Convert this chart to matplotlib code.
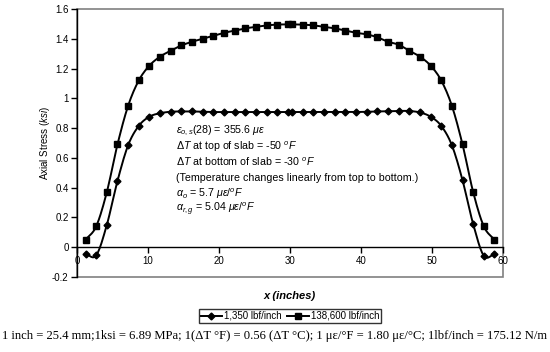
import numpy as np
import matplotlib
matplotlib.use('Agg')
import matplotlib.pyplot as plt
from matplotlib.patches import Rectangle

# 位置 (inch)
x_left = [1.2, 2.7, 4.2, 5.7, 7.2, 8.7, 10.2, 11.7, 13.2, 14.7,
          16.2, 17.7, 19.2, 20.7, 22.2, 23.7, 25.2, 26.7, 28.2, 29.7]
x_right = [30.3, 31.8, 33.3, 34.8, 36.3, 37.8, 39.3, 40.8, 42.3, 43.8,
           45.3, 46.8, 48.3, 49.8, 51.3, 52.8, 54.3, 55.8, 57.3, 58.8]
x_pos = x_left + x_right

# 1,350 lbf/inch
stress_soft = [-0.045, -0.055, 0.15, 0.445, 0.685, 0.815, 0.877, 0.900, 0.910, 0.912,
               0.912, 0.910, 0.908, 0.908, 0.908, 0.908, 0.908, 0.908, 0.908, 0.908,
               0.908, 0.908, 0.908, 0.908, 0.908, 0.908, 0.908, 0.910, 0.912, 0.913,
               0.915, 0.915, 0.905, 0.877, 0.815, 0.685, 0.450, 0.155, -0.058, -0.047]
# 138,600 lbf/inch
stress_stiff = [0.05, 0.14, 0.37, 0.69, 0.95, 1.12, 1.22, 1.28, 1.32, 1.355,
                1.38, 1.40, 1.42, 1.44, 1.455, 1.47, 1.48, 1.49, 1.495, 1.497,
                1.497, 1.495, 1.49, 1.48, 1.47, 1.455, 1.44, 1.43, 1.41, 1.38,
                1.36, 1.32, 1.28, 1.22, 1.12, 0.95, 0.69, 0.37, 0.14, 0.05]

series_labels = ['1,350 lbf/inch', '138,600 lbf/inch']
x_ticks = [0, 10, 20, 30, 40, 50, 60]
y_ticks = [-0.2, 0, 0.2, 0.4, 0.6, 0.8, 1, 1.2, 1.4, 1.6]
y_ticklabels = ['-0.2', '0', '0.2', '0.4', '0.6', '0.8', '1', '1.2', '1.4', '1.6']

notes = [r'$\varepsilon_{o,s}$(28) = 355.6 $\mu\varepsilon$',
         r'$\Delta T$ at top of slab = -50 $^{o}F$',
         r'$\Delta T$ at bottom of slab = -30 $^{o}F$',
         '(Temperature changes linearly from top to bottom.)',
         r'$\alpha_{o}$ = 5.7 $\mu\varepsilon$/$^{o}F$',
         r'$\alpha_{r,g}$ = 5.04 $\mu\varepsilon$/$^{o}F$']
units_line = ('1 inch = 25.4 mm;1ksi = 6.89 MPa; 1(\u0394T \u00b0F) = 0.56 (\u0394T \u00b0C); '
              '1 \u03bc\u03b5/\u00b0F = 1.80 \u03bc\u03b5/\u00b0C; 1lbf/inch = 175.12 N/m')

plt.rcParams['font.family'] = ['Liberation Sans', 'DejaVu Sans']
plt.rcParams['mathtext.fontset'] = 'custom'
plt.rcParams['mathtext.rm'] = 'Liberation Sans'
plt.rcParams['mathtext.it'] = 'Liberation Sans:italic'
plt.rcParams['mathtext.bf'] = 'Liberation Sans:bold'


def smooth(x, y, n=12):
    # Catmull-Rom 平滑曲线 (类似 Excel 的平滑线)
    x = np.asarray(x, float)
    y = np.asarray(y, float)
    px = np.concatenate([[2 * x[0] - x[1]], x, [2 * x[-1] - x[-2]]])
    py = np.concatenate([[2 * y[0] - y[1]], y, [2 * y[-1] - y[-2]]])
    xs, ys = [], []
    t = np.linspace(0, 1, n, endpoint=False)
    for i in range(1, len(px) - 2):
        for arr, out in ((px, xs), (py, ys)):
            p0, p1, p2, p3 = arr[i - 1], arr[i], arr[i + 1], arr[i + 2]
            out.extend(0.5 * ((2 * p1) + (-p0 + p2) * t
                              + (2 * p0 - 5 * p1 + 4 * p2 - p3) * t ** 2
                              + (-p0 + 3 * p1 - 3 * p2 + p3) * t ** 3))
    xs.append(x[-1])
    ys.append(y[-1])
    return np.array(xs), np.array(ys)


fig = plt.figure(figsize=(5.5, 3.52), dpi=100)
ax = fig.add_axes([77 / 550, 1 - 277 / 352, 426 / 550, 268 / 352])

for ys, mk, ms, lab in ((stress_soft, 'D', 3.5, series_labels[0]),
                        (stress_stiff, 's', 4.3, series_labels[1])):
    sx, sy = smooth(x_pos, ys)
    ax.plot(sx, sy, color='black', lw=1.4, zorder=3)
    ax.plot(x_pos, ys, linestyle='none', marker=mk, ms=ms, color='black', zorder=4)
    ax.plot([], [], color='black', lw=1.4, marker=mk, ms=ms, label=lab)

ax.set_xlim(0, 60)
ax.set_ylim(-0.2, 1.6)

# 外框 (灰色)
ax.add_patch(Rectangle((0, 0), 1, 1, transform=ax.transAxes, fill=False,
                       edgecolor='#808080', lw=1.2, zorder=1, clip_on=False))
for s in ['top', 'right']:
    ax.spines[s].set_visible(False)
ax.spines['bottom'].set_position(('data', 0))
ax.spines['bottom'].set_color('black')
ax.spines['left'].set_color('black')
ax.spines['bottom'].set_linewidth(1.0)
ax.spines['left'].set_linewidth(1.0)

ax.set_xticks(x_ticks)
ax.set_xticklabels([str(v) for v in x_ticks])
ax.set_yticks(y_ticks)
ax.set_yticklabels(y_ticklabels)
ax.tick_params(axis='both', direction='out', length=4, width=1, labelsize=7, pad=2)

ax.set_ylabel(r'Axial Stress ($\mathit{ksi}$)', fontsize=7, labelpad=0)

fig.text(290 / 550, 1 - 296 / 352, 'x (inches)', fontsize=8, fontweight='bold',
         style='italic', ha='center', va='center')

for i, line in enumerate(notes):
    fig.text(176 / 550, 1 - (131 + i * 15.6) / 352, line, fontsize=7.7,
             ha='left', va='center')

leg = fig.legend(loc='center', bbox_to_anchor=(290 / 550, 1 - 316 / 352), ncol=2,
                 fontsize=7, frameon=True, fancybox=False, edgecolor='black',
                 handlelength=2.2, handletextpad=0.2, columnspacing=0.6,
                 borderpad=0.2, borderaxespad=0)
leg.get_frame().set_linewidth(1.0)

fig.text(0.5, 1 - 336 / 352, units_line, fontsize=9.1, family='Liberation Serif',
         ha='center', va='center')

fig.savefig('out.png', dpi=100)
